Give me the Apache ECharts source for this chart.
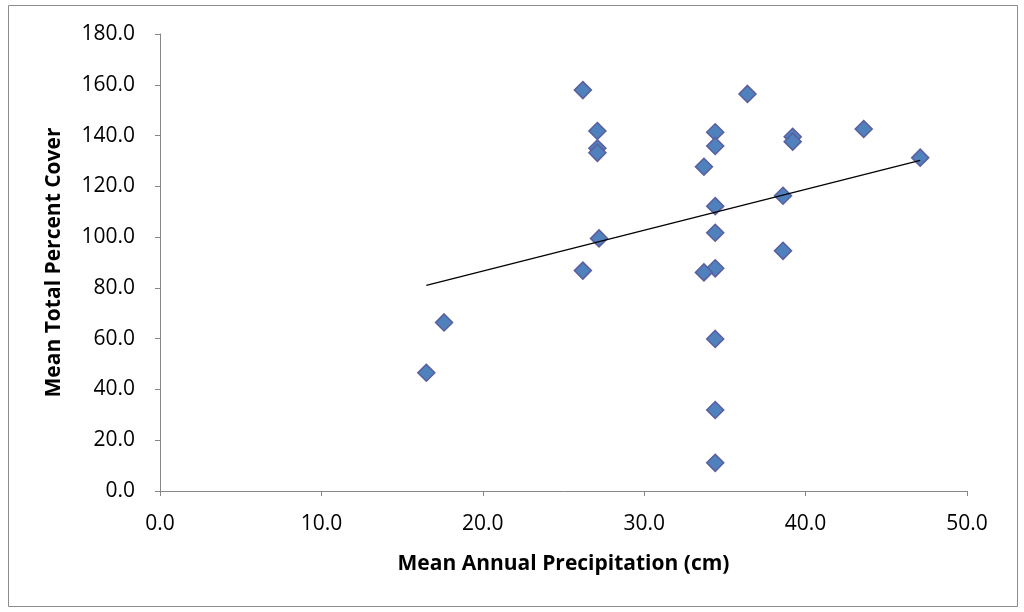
<!DOCTYPE html>
<html><head><meta charset="utf-8">
<script src="https://cdn.jsdelivr.net/npm/echarts@6/dist/echarts.min.js"></script>
<style>html,body{margin:0;padding:0;background:#fff}#c{width:1024px;height:612px}</style>
</head><body><div id="c"></div>
<script>
const precip = [26.2, 36.4, 27.1, 27.1, 27.1, 34.4, 34.4, 39.2, 39.2, 33.7, 34.4, 34.4, 34.4, 33.7, 38.6, 38.6, 17.6, 16.5, 26.2, 34.4, 34.4, 34.4, 43.6, 47.1, 27.2];
const cover  = [157.9, 156.4, 141.8, 135.0, 133.2, 141.3, 135.9, 139.5, 137.6, 127.7, 112.2, 101.7, 87.7, 86.1, 116.3, 94.6, 66.4, 46.6, 86.8, 59.9, 31.9, 11.1, 142.6, 131.3, 99.5];
const trendX = [16.5, 47.1];
const trendY = [81.0, 130.2];
const xTitle = 'Mean Annual Precipitation (cm)';
const yTitle = 'Mean Total Percent Cover';

const chart = echarts.init(document.getElementById('c'));
const font = 'Open Sans, Liberation Sans, sans-serif';
const axisGray = '#868686';
chart.setOption({
  animation: false,
  backgroundColor: '#fff',
  graphic: [{type:'rect', shape:{x:8.5,y:5.5,width:1009,height:601}, style:{fill:'none', stroke:'#8c8c8c', lineWidth:1}}],
  grid: {left: 160, right: 57, top: 34, bottom: 121},
  xAxis: {
    type: 'value', min: 0, max: 50, interval: 10,
    name: xTitle, nameLocation: 'middle', nameGap: 63,
    nameTextStyle: {fontFamily: font, fontWeight: 'bold', fontSize: 21, color: '#000'},
    axisLine: {onZero:false, lineStyle: {color: axisGray}},
    axisTick: {show: true, length: 5, lineStyle: {color: axisGray}},
    axisLabel: {fontFamily: font, fontSize: 21, color: '#000', margin: 23, formatter: v => v.toFixed(1)},
    splitLine: {show: false}
  },
  yAxis: {
    type: 'value', min: 0, max: 180, interval: 20,
    name: yTitle, nameLocation: 'middle', nameGap: 95, nameRotate: 90,
    nameTextStyle: {fontFamily: font, fontWeight: 'bold', fontSize: 21, color: '#000'},
    axisLine: {show: true, onZero:false, lineStyle: {color: axisGray}},
    axisTick: {show: true, length: 5, lineStyle: {color: axisGray}},
    axisLabel: {fontFamily: font, fontSize: 21, color: '#000', margin: 25, formatter: v => v.toFixed(1)},
    splitLine: {show: false}
  },
  series: [
    {type: 'line', data: trendX.map((x,i)=>[x, trendY[i]]), symbol: 'none',
     lineStyle: {color: '#000', width: 1.2}, z: 3},
    {type: 'scatter', data: precip.map((x,i)=>[x, cover[i]]), symbol: 'diamond', symbolSize: 17,
     itemStyle: {color: '#4F81BD', borderColor: '#5B5E9E', borderWidth: 1.5, opacity: 1}, z: 2}
  ]
});
</script></body></html>
